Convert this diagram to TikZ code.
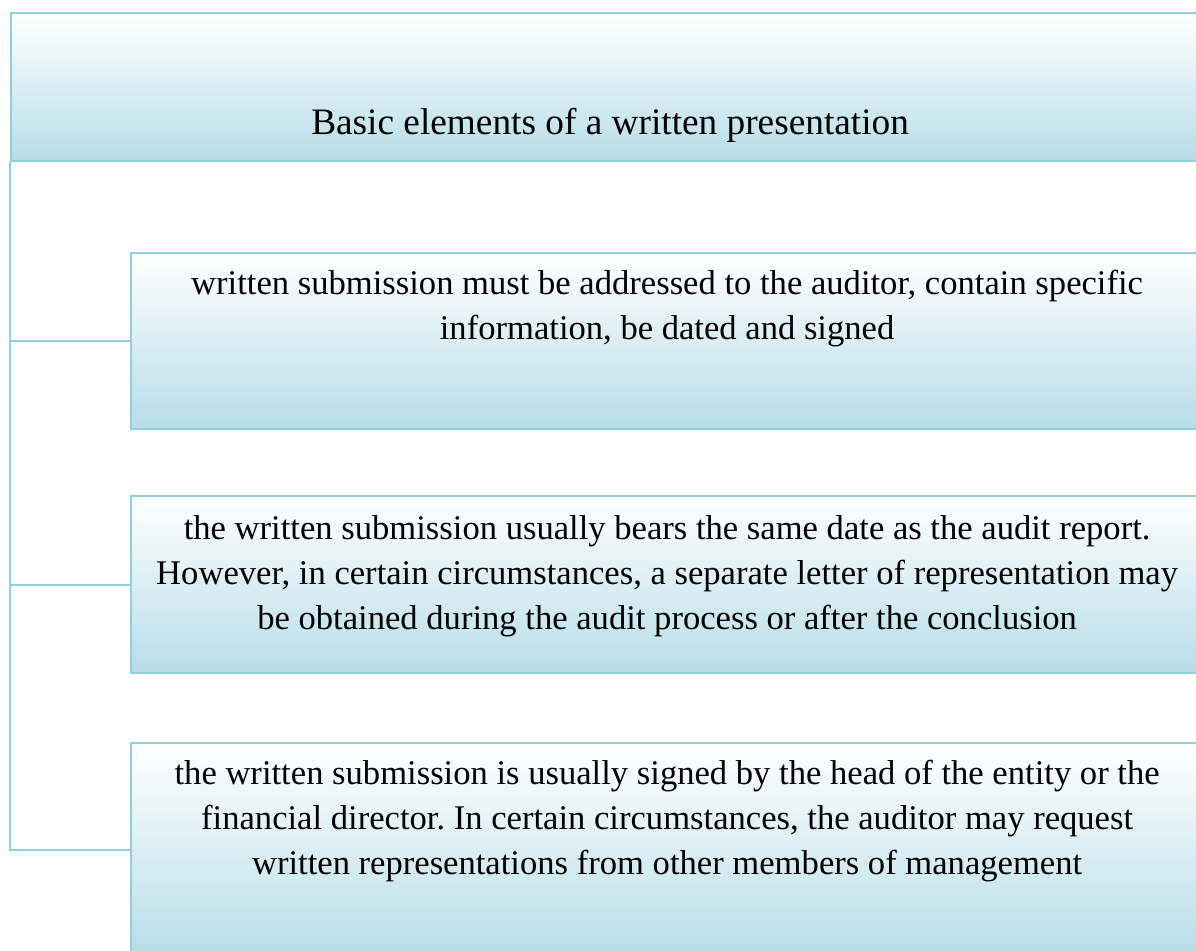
\documentclass[tikz,border=0pt]{standalone}
\usepackage{fontspec}
\setmainfont{Liberation Serif}
\usepackage{tikz}
\usepackage{xcolor}
\definecolor{boxline}{RGB}{146,205,221}
\definecolor{boxfill}{RGB}{183,221,232}
\newcommand{\boxfont}[1]{\fontsize{#1}{45}\selectfont}

\begin{document}
\begin{tikzpicture}[x=1pt, y=-1pt,
    box/.style={draw=boxline, line width=2.2pt, top color=white, bottom color=boxfill,
        anchor=north west, inner sep=0pt, align=center, font=\boxfont{34.6},
        execute at begin node={\frenchspacing\spaceskip=0.25em\relax}},
    item/.style={box, minimum width=1072pt, text width=1072pt},
    link/.style={draw=boxline, line width=2.2pt}]
    \path[use as bounding box, clip] (0,0) rectangle (1196,950);
    % heading
    \node[box, minimum width=1198pt, text width=1198pt, text height=121pt, text depth=27pt,
        font=\boxfont{37.3}]
        (title) at (10,12) {Basic elements of a written presentation};
    % the three elements
    \node[item, text height=41pt, text depth=135pt] (b1) at (130,252)
        {written submission must be addressed to the auditor, contain specific\\
         information, be dated and signed};
    \node[item, text height=43pt, text depth=134pt] (b2) at (130,495)
        {the written submission usually bears the same date as the audit report.\\
         However, in certain circumstances, a separate letter of representation may\\
         be obtained during the audit process or after the conclusion};
    \node[item, text height=41pt, text depth=173pt] (b3) at (130,742)
        {the written submission is usually signed by the head of the entity or the\\
         financial director. In certain circumstances, the auditor may request\\
         written representations from other members of management};
    % connectors
    \draw[link] (title.south west) -- (title.south west |- b3.west) -- (b3.west);
    \draw[link] (title.south west |- b1.west) -- (b1.west);
    \draw[link] (title.south west |- b2.west) -- (b2.west);
\end{tikzpicture}
\end{document}
